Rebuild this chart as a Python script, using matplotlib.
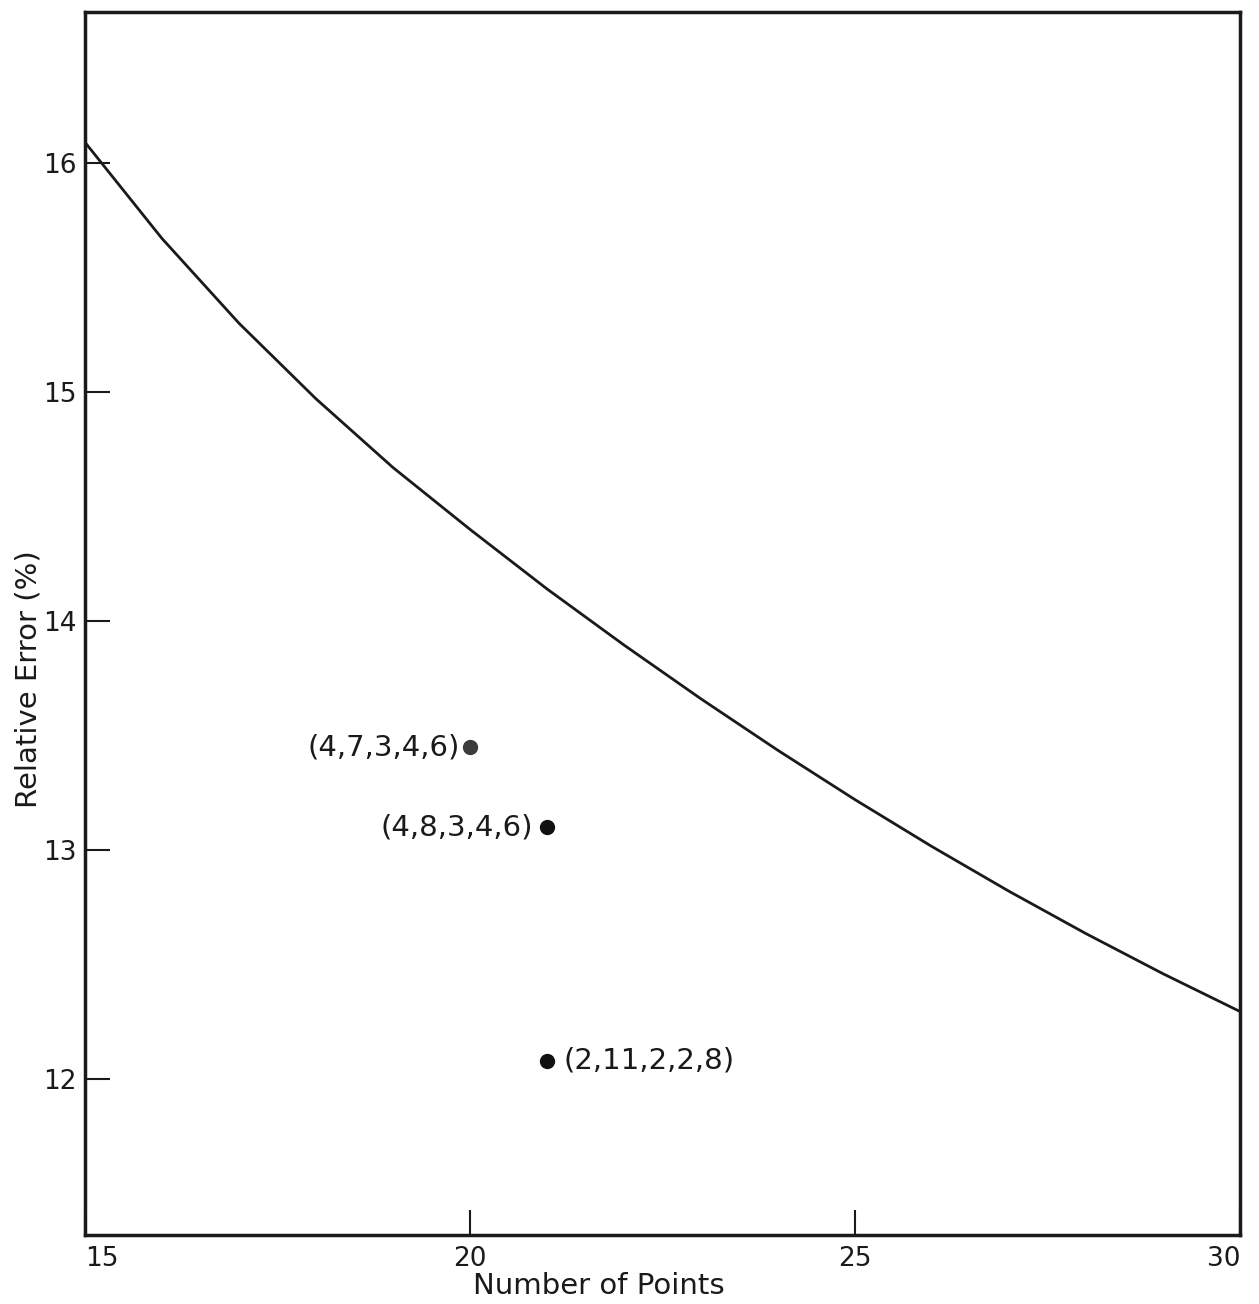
import matplotlib.pyplot as plt

# error curve read at whole numbers of points
n_points = [15, 16, 17, 18, 19, 20, 21, 22, 23, 24, 25, 26, 27, 28, 29, 30]
rel_error = [16.09, 15.67, 15.30, 14.97, 14.67, 14.40, 14.14, 13.895,
             13.66, 13.435, 13.22, 13.015, 12.82, 12.635, 12.46, 12.295]

# individual configurations
conf_labels = ['(4,7,3,4,6)', '(4,8,3,4,6)', '(2,11,2,2,8)']
conf_x = [20, 21, 21]
conf_y = [13.45, 13.10, 12.08]
conf_colors = ['#3c3c3c', '#111111', '#111111']

x_ticks = [15, 20, 25, 30]
y_ticks = [12, 13, 14, 15, 16]

fig = plt.figure(figsize=(12.59, 13.04), dpi=100)
ax = fig.add_axes([0.0675, 0.053, 0.9175, 0.938])

ax.plot(n_points, rel_error, color='#1a1a1a', lw=2.0)

offsets = [(-7, 0), (-10, 0), (12, 0)]
aligns = ['right', 'right', 'left']
for lbl, x, y, c, off, ha in zip(conf_labels, conf_x, conf_y, conf_colors, offsets, aligns):
    ax.plot(x, y, 'o', color=c, ms=10)
    ax.annotate(lbl, (x, y), xytext=off, textcoords='offset points',
                ha=ha, va='center', fontsize=21, color='#1a1a1a')

ax.set_xlim(15, 30)
ax.set_ylim(11.32, 16.66)
ax.set_xticks(x_ticks)
ax.set_yticks(y_ticks)
ax.tick_params(direction='in', length=18, width=1.5, labelsize=19,
               colors='#1a1a1a', pad=6)
ax.tick_params(axis='x', pad=8)
xl = ax.get_xticklabels()
xl[0].set_ha('left')
xl[-1].set_ha('right')

for s in ax.spines.values():
    s.set_linewidth(2.5)
    s.set_color('#1a1a1a')

ax.set_xlabel('Number of Points', fontsize=21, color='#1a1a1a')
ax.set_ylabel('Relative Error (%)', fontsize=21, color='#1a1a1a')
ax.xaxis.set_label_coords(0.445, -0.030)
ax.yaxis.set_label_coords(-0.037, 0.454)

fig.savefig('out.png', dpi=100)
